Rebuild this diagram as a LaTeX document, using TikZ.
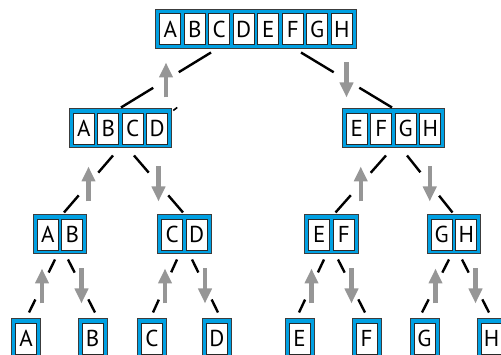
\documentclass[tikz,border=0pt]{standalone}
\usepackage{fontspec}
\setmainfont{PT Sans}
\usetikzlibrary{calc,arrows.meta}
\definecolor{cyanfill}{RGB}{0,160,226}
\definecolor{frameline}{RGB}{60,60,60}
\definecolor{cellline}{RGB}{40,40,40}
\definecolor{arrowgray}{RGB}{150,150,150}
\tikzset{
  framebox/.style={rectangle, draw=frameline, fill=cyanfill, line width=1pt, minimum height=39pt, inner sep=0pt},
  cellbox/.style={rectangle, draw=cellline, fill=white, line width=0.8pt, minimum width=21pt, minimum height=31pt, inner sep=0pt, font=\fontsize{23}{23}\selectfont},
  conn/.style={draw=black, line width=2.4pt},
  garrow/.style={draw=arrowgray, line width=4.5pt, -{Triangle[length=15pt,width=13pt]}},
}
\newcommand\mybox[5]{%
  \pgfmathsetmacro\mybw{#4*24.5+4.5}%
  \node[framebox, minimum width=\mybw pt] (#1) at (#2,#3) {};
  \foreach \L [count=\i] in {#5} {
    \pgfmathsetmacro\mycx{#2+(\i-(#4+1)/2)*24.5}
    \node[cellbox] (#1-\i) at (\mycx,#3) {\L};
  }
}
\newcommand\myconn[6]{%
  \coordinate (#1s) at ($(#2.south)+(#3)$);
  \coordinate (#1e) at ($(#4.north)+(#5)$);
  \coordinate (#1m) at ($(#1s)!0.5!(#1e)$);
  \draw[conn] (#1s) -- ($(#1m)!15pt!(#1s)$);
  \draw[conn] ($(#1m)!15pt!(#1e)$) -- (#1e);
  \draw[garrow] ($(#1m)+(0,#6)$) -- ($(#1m)-(0,#6)$);
}
\begin{document}
\begin{tikzpicture}[x=1pt,y=-1pt]
\useasboundingbox (0,0) rectangle (501,355);
\clip (0,0) rectangle (501,355);
% boxes
\mybox{top}{256}{29}{8}{A,B,C,D,E,F,G,H}
\mybox{ABCD}{120.5}{128.5}{4}{A,B,C,D}
\mybox{EFGH}{393.5}{128.5}{4}{E,F,G,H}
\mybox{AB}{60}{234.5}{2}{A,B}
\mybox{CD}{184.5}{234.5}{2}{C,D}
\mybox{EF}{331.5}{234.5}{2}{E,F}
\mybox{GH}{454}{234.5}{2}{G,H}
\mybox{lA}{26}{338.5}{1}{A}
\mybox{lB}{92.5}{338.5}{1}{B}
\mybox{lC}{152}{338.5}{1}{C}
\mybox{lD}{217}{338.5}{1}{D}
\mybox{lE}{299.5}{338.5}{1}{E}
\mybox{lF}{366.5}{338.5}{1}{F}
\mybox{lG}{424.5}{338.5}{1}{G}
\mybox{lH}{491.5}{338.5}{1}{H}
% connectors
\myconn{c1}{top}{-45,3.5}{ABCD}{0.5,-1}{17.5}
\myconn{c2}{top}{45,3.5}{EFGH}{-1.5,-1}{-17.5}
\myconn{c3}{ABCD}{-7.5,7}{AB}{4,-2}{17.5}
\myconn{c4}{ABCD}{13.5,7}{CD}{-1.5,-2}{-17.5}
\myconn{c5}{EFGH}{-7.5,7}{EF}{4,-2}{17.5}
\myconn{c6}{EFGH}{13.5,7}{GH}{-1.5,-2}{-17.5}
\myconn{c7}{AB}{-5,5}{lA}{3,-6}{17.5}
\myconn{c8}{AB}{8,5}{lB}{2.5,-6}{-17.5}
\myconn{c9}{CD}{-7.5,5}{lC}{1,-6}{17.5}
\myconn{c10}{CD}{7.5,5}{lD}{1,-6}{-17.5}
\myconn{c11}{EF}{-7.5,5}{lE}{-0.5,-6}{17.5}
\myconn{c12}{EF}{6.5,5}{lF}{-1.5,-6}{-17.5}
\myconn{c13}{GH}{-5,5}{lG}{-2.5,-6}{17.5}
\myconn{c14}{GH}{8,5}{lH}{-2.5,-6}{-17.5}
% small stray stroke at the corner of ABCD
\coordinate (strayA) at ($(ABCD.north east)+(1,2)$);
\coordinate (strayB) at ($(ABCD.north east)+(5,-1)$);
\draw[line width=1.6pt] (strayA) -- (strayB);
\end{tikzpicture}
\end{document}
